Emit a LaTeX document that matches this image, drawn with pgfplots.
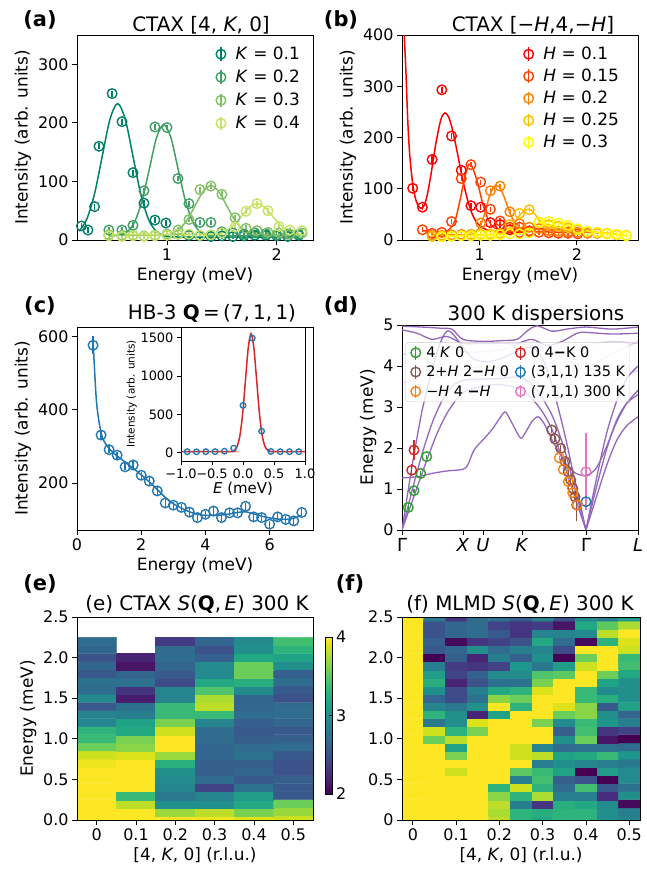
\documentclass[border=0pt]{standalone}
\usepackage{fontspec}
\setmainfont{DejaVu Sans}
\usepackage{pgfplots}
\usepgfplotslibrary{colormaps}
\pgfplotsset{compat=1.18}

\definecolor{k1}{rgb}{0.00,0.50,0.40}
\definecolor{k2}{rgb}{0.25,0.625,0.40}
\definecolor{k3}{rgb}{0.50,0.75,0.40}
\definecolor{k4}{rgb}{0.78,0.89,0.40}
\definecolor{h1}{rgb}{1,0,0}
\definecolor{h2}{rgb}{1,0.25,0}
\definecolor{h3}{rgb}{1,0.5,0}
\definecolor{h4}{rgb}{1,0.75,0}
\definecolor{h5}{rgb}{1,1,0}
\definecolor{tabblue}{HTML}{1F77B4}
\definecolor{taborange}{HTML}{FF7F0E}
\definecolor{tabgreen}{HTML}{2CA02C}
\definecolor{tabred}{HTML}{D62728}
\definecolor{tabpurple}{HTML}{9467BD}
\definecolor{tabbrown}{HTML}{8C564B}
\definecolor{tabpink}{HTML}{E377C2}

\pgfplotsset{
  base/.style={scale only axis, anchor=north west, tick align=outside, tick pos=left,
    major tick length=5bp, axis line style={line width=0.8bp},
    every tick/.style={black, line width=0.8bp},
    tick label style={font=\fontsize{16}{19}\selectfont},
    label style={font=\fontsize{17}{20}\selectfont},
    /pgf/number format/assume math mode=true,
    /pgf/number format/1000 sep={}},
  phi/.style={legend image code/.code={
    \path[draw=none, fill=none] (0cm,0cm) -- (#1,0cm);
    \draw[##1, line width=1.4bp] (0.3cm,-0.24cm) -- (0.3cm,0.24cm);
    \draw[##1, line width=1.4bp, fill=none] (0.3cm,0cm) circle (4.8bp);}},
  dat/.style={only marks, mark=o, mark size=4.8bp, line width=1.4bp,
    mark options={line width=1.4bp, fill=none, solid}, phi=0.75cm},
  eb/.style={error bars/y dir=both, error bars/y fixed=#1, error bars/error mark=none,
    error bars/error bar style={line width=1.4bp}},
  ebx/.style={error bars/y dir=both, error bars/y explicit, error bars/error mark=none,
    error bars/error bar style={line width=1.4bp}},
  fit/.style={line width=1.5bp, no marks, smooth, forget plot},
  disp/.style={tabpurple, line width=1.3bp, no marks, smooth, forget plot},
  dispf/.style={tabpurple, opacity=0.3, line width=1.3bp, no marks, smooth, forget plot},
}

\begin{document}
\begin{tikzpicture}
\useasboundingbox (0,0) rectangle (647bp,-871bp);

% panel letters and titles
\begin{scope}[every node/.style={font=\bfseries\fontsize{21}{24}\selectfont, anchor=base}]
\node at (40bp,-26bp) {(a)};
\node at (341bp,-26bp) {(b)};
\node at (40bp,-312bp) {(c)};
\node at (341bp,-312bp) {(d)};
\node at (40bp,-590bp) {(e)};
\node at (350bp,-590bp) {(f)};
\end{scope}
\begin{scope}[every node/.style={font=\fontsize{20}{23}\selectfont, anchor=base}]
\node at (201bp,-31bp) {CTAX [4, \textit{K}, 0]};
\node at (533bp,-31bp) {CTAX [−\textit{H},4,−\textit{H}]};
\node at (212bp,-319bp) {HB-3 \textbf{Q}\,=\,(7,\,1,\,1)};
\node at (536bp,-320bp) {300 K dispersions};
\node at (197bp,-610bp) {(e) CTAX \textit{S}(\textbf{Q},\,\textit{E}) 300 K};
\node at (520bp,-610bp) {(f) MLMD \textit{S}(\textbf{Q},\,\textit{E}) 300 K};
\end{scope}

% ---------------- (a)
\begin{axis}[base, at={(77bp,-35bp)}, width=236bp, height=205bp,
  xmin=0.18, xmax=2.33, ymin=0, ymax=350,
  xtick={1,2}, ytick={0,100,200,300},
  xlabel={Energy (meV)}, ylabel={Intensity (arb. units)},
  legend style={at={(1,1)}, anchor=north east, xshift=-8bp, yshift=-8bp,
    draw=none, fill=none, font=\fontsize{17}{20}\selectfont, row sep=5bp},
  legend cell align=left]
\addplot[k1, dat, eb=5] coordinates {(0.22,24)(0.28,17)(0.34,57)(0.38,160)(0.50,250)(0.59,202)(0.69,115)(0.79,63)(0.89,34)(0.99,29)(1.10,10)(1.20,8)(1.30,7)(1.40,6)(1.50,7)(1.60,6)(1.70,7)(1.80,8)(1.90,8)(2.00,7)(2.10,6)(2.20,8)};
\addlegendentry{\textit{K} = 0.1}
\addplot[k2, dat, eb=5] coordinates {(0.47,17)(0.59,17)(0.69,25)(0.79,84)(0.89,193)(1.00,192)(1.10,105)(1.20,62)(1.30,30)(1.40,30)(1.50,14)(1.60,12)(1.70,10)(1.80,12)(1.90,11)(2.00,9)(2.10,10)(2.20,10)};
\addlegendentry{\textit{K} = 0.2}
\addplot[k3, dat, eb=5] coordinates {(0.47,9)(0.59,8)(0.69,8)(0.79,7)(0.89,8)(1.00,10)(1.10,17)(1.20,35)(1.30,86)(1.40,92)(1.50,78)(1.62,38)(1.72,20)(1.82,16)(1.92,13)(2.02,12)(2.12,10)(2.23,12)};
\addlegendentry{\textit{K} = 0.3}
\addplot[k4, dat, eb=5] coordinates {(0.47,7)(0.59,6)(0.69,7)(0.79,6)(0.89,7)(1.00,8)(1.10,10)(1.20,10)(1.30,8)(1.40,9)(1.50,12)(1.62,22)(1.72,49)(1.82,62)(1.92,50)(2.02,23)(2.12,17)(2.23,16)};
\addlegendentry{\textit{K} = 0.4}
\addplot[k1, fit] coordinates {(0.20,15)(0.27,36)(0.34,79)(0.41,143)(0.48,206)(0.55,233)(0.62,206)(0.69,143)(0.76,79)(0.83,36)(0.90,15)(0.97,7.5)(1.04,5.6)(1.2,5)(2.2,5)};
\addplot[k2, fit] coordinates {(0.47,7)(0.58,9)(0.645,15)(0.71,33)(0.775,69)(0.84,122)(0.905,175)(0.97,197)(1.035,175)(1.10,122)(1.165,69)(1.23,33)(1.295,15)(1.36,9)(1.5,7)(2.2,7)};
\addplot[k3, fit] coordinates {(0.47,8)(0.98,9)(1.05,12)(1.12,20)(1.19,36)(1.26,60)(1.33,83)(1.40,93)(1.47,83)(1.54,60)(1.61,36)(1.68,20)(1.75,12)(1.82,9)(2.23,8)};
\addplot[k4, fit] coordinates {(0.47,9)(1.40,9.6)(1.47,11.3)(1.54,16)(1.61,26)(1.68,41)(1.75,56)(1.82,62)(1.89,56)(1.96,41)(2.03,26)(2.10,16)(2.17,11.3)(2.24,9.6)};
\end{axis}

% ---------------- (b)
\begin{axis}[base, at={(402bp,-35bp)}, width=236bp, height=205bp,
  xmin=0.2, xmax=2.63, ymin=0, ymax=400,
  xtick={1,2}, ytick={0,100,200,300,400},
  xlabel={Energy (meV)}, ylabel={Intensity (arb. units)},
  legend style={at={(1,1)}, anchor=north east, xshift=-14bp, yshift=-8bp,
    draw=none, fill=none, font=\fontsize{17}{20}\selectfont, row sep=4bp},
  legend cell align=left]
\addplot[h1, dat, eb=6] coordinates {(0.31,101)(0.41,64)(0.51,157)(0.61,293)(0.71,203)(0.81,136)(0.91,67)(1.01,64)(1.11,34)(1.21,30)(1.31,20)(1.41,14)(1.51,15)};
\addlegendentry{\textit{H} = 0.1}
\addplot[h2, dat, eb=5] coordinates {(0.41,20)(0.51,13)(0.61,15)(0.71,36)(0.81,120)(0.91,147)(1.01,113)(1.11,60)(1.21,37)(1.31,25)(1.41,25)(1.51,18)(1.61,15)(1.71,14)(1.81,13)(1.91,13)(2.01,12)};
\addlegendentry{\textit{H} = 0.15}
\addplot[h3, dat, eb=5] coordinates {(0.51,9)(0.61,9)(0.71,10)(0.81,11)(0.91,11)(1.01,33)(1.11,96)(1.21,105)(1.31,55)(1.41,32)(1.51,25)(1.61,22)(1.71,18)(1.81,17)(1.91,16)(2.01,15)(2.11,13)(2.21,13)(2.31,12)(2.41,10)};
\addlegendentry{\textit{H} = 0.2}
\addplot[h4, dat, eb=5] coordinates {(0.51,7)(0.61,8)(0.71,8)(0.81,9)(0.91,10)(1.01,11)(1.11,12)(1.21,13)(1.31,30)(1.41,52)(1.51,59)(1.61,35)(1.71,30)(1.81,27)(1.91,24)(2.01,20)(2.11,17)(2.21,15)(2.31,13)(2.41,11)(2.51,9)};
\addlegendentry{\textit{H} = 0.25}
\addplot[h5, dat, eb=5] coordinates {(0.61,6)(0.71,7)(0.81,8)(0.91,8)(1.01,9)(1.11,9)(1.21,10)(1.31,12)(1.41,12)(1.51,14)(1.61,34)(1.71,36)(1.81,33)(1.91,29)(2.01,22)(2.11,17)(2.21,15)(2.31,12)(2.41,11)(2.51,8)};
\addlegendentry{\textit{H} = 0.3}
\addplot[h1, fit] coordinates {(0.22,410)(0.24,330)(0.26,230)(0.28,165)(0.31,110)(0.34,80)(0.37,66)(0.40,62)(0.43,68)(0.46,88)(0.50,130)(0.55,190)(0.60,235)(0.64,248)(0.68,240)(0.72,215)(0.77,170)(0.82,122)(0.87,82)(0.92,52)(0.97,34)(1.03,24)(1.10,18)(1.2,16)(1.5,15)};
\addplot[h2, fit] coordinates {(0.41,18)(0.6,16)(0.65,17)(0.70,23)(0.75,40)(0.80,80)(0.85,125)(0.89,148)(0.93,140)(0.98,110)(1.03,72)(1.08,43)(1.13,27)(1.20,20)(1.30,18)(2.0,14)};
\addplot[h3, fit] coordinates {(0.5,10)(0.9,11)(0.95,14)(1.00,25)(1.05,50)(1.10,85)(1.15,105)(1.20,104)(1.25,85)(1.30,58)(1.35,38)(1.40,28)(1.50,22)(2.4,12)};
\addplot[h4, fit] coordinates {(0.5,8)(1.2,12)(1.30,22)(1.35,32)(1.40,45)(1.45,56)(1.50,60)(1.55,55)(1.60,42)(1.65,33)(1.75,28)(2.0,20)(2.5,9)};
\addplot[h5, fit] coordinates {(0.6,7)(1.4,12)(1.50,17)(1.55,24)(1.60,31)(1.65,35)(1.70,37)(1.80,34)(1.90,29)(2.00,23)(2.20,15)(2.5,9)};
\end{axis}

% ---------------- (c)
\begin{axis}[base, at={(77bp,-327bp)}, width=236bp, height=203bp,
  xmin=0, xmax=7.35, ymin=71, ymax=627,
  xtick={0,2,4,6}, ytick={200,400,600},
  xlabel={Energy (meV)}, ylabel={Intensity (arb. units)}]
\addplot[tabblue, fit] coordinates {(0.5,590)(0.6,430)(0.7,360)(0.8,322)(1.0,294)(1.25,274)(1.5,257)(1.75,240)(2.0,222)(2.25,203)(2.5,182)(2.75,160)(3.0,143)(3.25,131)(3.5,121)(3.75,114)(4.0,111)(4.25,111)(4.5,112)(4.75,115)(5.0,119)(5.25,121)(5.5,115)(5.75,109)(6.0,104)(6.25,101)(6.5,100)(6.75,103)(7.0,112)};
\addplot[tabblue, dat, ebx] coordinates {(0.5,577)+-(0,24)(0.75,331)+-(0,10)(1.0,291)+-(0,10)(1.25,276)+-(0,10)(1.5,244)+-(0,10)(1.75,249)+-(0,10)(2.0,221)+-(0,10)(2.25,205)+-(0,10)(2.5,178)+-(0,10)(2.75,145)+-(0,10)(3.0,139)+-(0,10)(3.25,133)+-(0,10)(3.5,120)+-(0,10)(3.75,105)+-(0,10)(4.0,114)+-(0,10)(4.25,123)+-(0,10)(4.5,105)+-(0,10)(4.75,118)+-(0,10)(5.0,118)+-(0,10)(5.25,136)+-(0,10)(5.5,107)+-(0,10)(5.75,105)+-(0,10)(6.0,87)+-(0,10)(6.25,107)+-(0,10)(6.5,100)+-(0,10)(6.75,96)+-(0,10)(7.0,119)+-(0,10)};
\end{axis}

% inset of (c)
\begin{axis}[base, at={(181bp,-327bp)}, width=124bp, height=134bp,
  axis background/.style={fill=white},
  xmin=-1, xmax=1, ymin=-110, ymax=1640,
  xtick={-1,-0.5,0,0.5,1}, xticklabels={−1.0,−0.5,0.0,0.5,1.0},
  ytick={0,500,1000,1500}, major tick length=4bp,
  tick label style={font=\fontsize{13}{15}\selectfont},
  xlabel={\textit{E} (meV)}, ylabel={Intensity (arb. units)},
  xlabel style={font=\fontsize{15}{17}\selectfont, yshift=3bp},
  ylabel style={font=\fontsize{10.5}{12}\selectfont, yshift=-3bp}]
\addplot[tabred, fit] coordinates {(-1,12)(-0.23,12.5)(-0.185,15)(-0.14,29)(-0.095,80)(-0.05,220)(-0.005,512)(0.04,946)(0.085,1371)(0.13,1552)(0.175,1371)(0.22,946)(0.265,512)(0.31,220)(0.355,80)(0.40,29)(0.445,15)(0.49,12.5)(1,12)};
\addplot[tabblue, only marks, mark=o, mark size=2.8bp, mark options={line width=1.3bp}] coordinates {(-0.9,12)(-0.75,10)(-0.6,12)(-0.45,12)(-0.3,18)(-0.15,58)(0,616)(0.15,1495)(0.3,280)(0.45,15)(0.6,12)(0.75,12)(0.9,12)};
\end{axis}

% ---------------- (d)
\begin{axis}[base, at={(402bp,-325bp)}, width=236bp, height=205bp,
  xmin=0, xmax=236, ymin=0, ymax=5,
  xtick={0,61,81,120,184,236},
  xticklabels={Γ,\textit{X},\textit{U},\textit{K},Γ,\textit{L}},
  xticklabel style={font=\fontsize{18}{20}\selectfont},
  ytick={0,1,2,3,4,5}, ylabel={Energy (meV)},
  legend columns=2,
  legend style={at={(axis description cs:0.013,0.915)}, anchor=north west,
    font=\fontsize{14.5}{17}\selectfont, draw=black!20, fill=white,
    fill opacity=0.8, text opacity=1, draw opacity=1, rounded corners=3bp,
    row sep=3bp, inner sep=2bp,
    /tikz/every even column/.append style={column sep=1bp}},
  legend cell align=left]
% dispersions
\addplot[dispf] coordinates {(0,4.3)(20,4.2)(40,3.9)(61,3.75)(81,3.7)(100,3.65)(118,3.6)(135,3.75)(150,4.1)(165,4.3)(184,4.5)(210,4.6)(236,4.55)};
\addplot[dispf] coordinates {(0,3.6)(20,3.65)(40,3.75)(61,3.9)(81,4.0)(100,3.95)(120,3.8)(135,3.6)(150,3.4)(165,3.3)(184,3.35)(210,3.6)(236,3.9)};
\addplot[dispf] coordinates {(40,4.6)(61,4.35)(81,4.35)(100,4.4)(120,4.55)(140,4.45)(160,4.2)(184,4.0)(210,4.3)(236,4.6)};
\addplot[disp] coordinates {(0,1.27)(15,1.3)(30,1.38)(45,1.44)(61,1.48)(66,1.6)(72,1.95)(81,2.2)(90,2.45)(97,2.7)(103,2.88)(108,2.7)(114,2.42)(119,2.24)(124,2.4)(130,2.65)(136,2.76)(142,2.6)(150,2.2)(158,1.85)(166,1.55)(174,1.38)(184,1.33)(194,1.5)(204,2.0)(214,2.6)(225,3.1)(236,3.4)};
\addplot[disp] coordinates {(0,0)(8,0.55)(16,1.1)(25,1.72)(35,2.35)(45,2.85)(55,3.2)(61,3.35)(70,3.45)(81,3.5)(95,3.55)(110,3.5)(120,3.4)(130,3.2)(140,2.9)(150,2.45)(160,1.75)(170,1.02)(177,0.5)(184,0)};
\addplot[disp] coordinates {(184,0)(195,0.85)(205,1.6)(215,2.2)(225,2.55)(236,2.76)};
\addplot[disp] coordinates {(0,0)(10,0.95)(20,1.85)(30,2.6)(40,3.15)(50,3.5)(61,3.65)(81,3.68)(100,3.7)(120,3.72)(135,3.4)(150,2.8)(162,2.0)(173,1.0)(184,0)};
\addplot[disp] coordinates {(184,0)(195,1.1)(205,2.0)(215,2.7)(225,3.1)(236,3.3)};
\addplot[disp] coordinates {(0,0)(10,1.55)(20,2.9)(30,3.9)(38,4.55)(45,4.85)(52,4.75)(61,4.45)(70,4.2)(81,4.1)(95,4.15)(110,4.3)(120,4.4)(130,4.45)(140,4.2)(148,3.7)(156,3.0)(164,2.2)(172,1.3)(178,0.65)(184,0)};
\addplot[disp] coordinates {(184,0)(194,1.2)(204,2.3)(214,3.1)(225,3.7)(236,4.0)};
\addplot[disp] coordinates {(0,4.97)(20,4.95)(40,4.92)(50,4.9)(61,4.65)(81,4.6)(100,4.62)(115,4.65)(125,4.85)(135,4.98)(150,4.85)(165,4.9)(184,4.95)(210,4.9)(236,4.95)};
\addplot[disp] coordinates {(0,4.88)(15,4.8)(30,4.65)(45,4.72)(61,4.55)(81,4.55)(100,4.55)(115,4.55)(130,4.65)(145,4.5)(160,4.6)(175,4.8)(184,4.82)(210,4.78)(236,4.8)};
% data, ordered for a two-column legend
\addplot[tabgreen, dat, phi=0.6cm, ebx] coordinates {(6.3,0.55)+-(0,0.05)(12,0.96)+-(0,0.05)(18.7,1.38)+-(0,0.05)(24.7,1.79)+-(0,0.05)};
\addlegendentry{4 \textit{K} 0}
\addplot[tabred, dat, phi=0.6cm, ebx] coordinates {(9.7,1.46)+-(0,0.15)(12,1.95)+-(0,0.25)};
\addlegendentry{0 4\textbf{−}K 0}
\addplot[tabbrown, dat, phi=0.6cm, ebx] coordinates {(149.7,2.44)+-(0,0.08)(153,2.22)+-(0,0.08)(158.7,1.99)+-(0,0.08)(163,1.67)+-(0,0.08)(166.3,1.42)+-(0,0.08)(168.7,1.22)+-(0,0.08)(170.7,1.02)+-(0,0.08)(173,0.81)+-(0,0.1)(174.7,0.61)+-(0,0.4)};
\addlegendentry{2+\textit{H} 2\textbf{−}\textit{H} 0}
\addplot[tabblue, dat, phi=0.6cm, ebx] coordinates {(184,0.69)+-(0,0.05)};
\addlegendentry{(3,1,1) 135 K}
\addplot[taborange, dat, phi=0.6cm, ebx] coordinates {(157.3,1.76)+-(0,0.05)(161.3,1.48)+-(0,0.05)(166.3,1.18)+-(0,0.05)(170.7,0.91)+-(0,0.05)(175.3,0.61)+-(0,0.05)};
\addlegendentry{−\textit{H} 4 \textbf{−}\textit{H}}
\addplot[tabpink, dat, phi=0.6cm, ebx] coordinates {(184,1.42)+-(0,0.94)};
\addlegendentry{(7,1,1) 300 K}
\end{axis}

% ---------------- (e)
\begin{axis}[base, at={(77bp,-617bp)}, width=236bp, height=203bp,
  axis on top, xmin=-0.05, xmax=0.55, ymin=0, ymax=2.5,
  xtick={0,0.1,0.2,0.3,0.4,0.5}, xticklabels={0,0.1,0.2,0.3,0.4,0.5},
  ytick={0,0.5,1,1.5,2,2.5}, yticklabels={0.0,0.5,1.0,1.5,2.0,2.5},
  xlabel={[4, \textit{K}, 0] (r.l.u.)}, ylabel={Energy (meV)},
  colormap name=viridis, point meta min=2, point meta max=4,
  unbounded coords=jump,
  colorbar,
  colorbar style={at={(parent axis.north east)}, anchor=north west,
    xshift=4bp, yshift=-20bp, width=7bp, height=157bp, scale only axis,
    ytick={2,3,4}, ytick pos=right, yticklabel pos=right, major tick length=4bp,
    axis line style={line width=0.8bp},
    yticklabel style={font=\fontsize{16}{19}\selectfont},
    /pgf/number format/assume math mode=true}]
\addplot[matrix plot*, mesh/cols=6, point meta=explicit] table[meta=c] {
x y c
0 0 4.0
0.1 0 4.0
0.2 0 4.0
0.3 0 3.95
0.4 0 3.9
0.5 0 3.85
0 0.1 4.0
0.1 0.1 4.0
0.2 0.1 3.7
0.3 0.1 3.8
0.4 0.1 3.6
0.5 0.1 3.7
0 0.2 4.0
0.1 0.2 3.8
0.2 0.2 3.0
0.3 0.2 3.0
0.4 0.2 3.2
0.5 0.2 3.55
0 0.3 4.0
0.1 0.3 3.35
0.2 0.3 2.8
0.3 0.3 2.9
0.4 0.3 3.1
0.5 0.3 2.55
0 0.4 4.0
0.1 0.4 4.0
0.2 0.4 2.9
0.3 0.4 2.4
0.4 0.4 2.75
0.5 0.4 2.55
0 0.5 4.0
0.1 0.5 4.0
0.2 0.5 2.95
0.3 0.5 2.7
0.4 0.5 2.55
0.5 0.5 2.6
0 0.6 4.0
0.1 0.6 4.0
0.2 0.6 3.0
0.3 0.6 2.6
0.4 0.6 2.65
0.5 0.6 2.5
0 0.7 3.95
0.1 0.7 4.0
0.2 0.7 3.25
0.3 0.7 2.6
0.4 0.7 2.6
0.5 0.7 2.5
0 0.8 3.85
0.1 0.8 3.9
0.2 0.8 3.7
0.3 0.8 2.65
0.4 0.8 2.75
0.5 0.8 2.55
0 0.9 3.55
0.1 0.9 3.65
0.2 0.9 4.0
0.3 0.9 2.65
0.4 0.9 2.7
0.5 0.9 2.7
0 1.0 3.35
0.1 1.0 3.6
0.2 1.0 4.0
0.3 1.0 2.7
0.4 1.0 2.6
0.5 1.0 2.6
0 1.1 3.3
0.1 1.1 3.2
0.2 1.1 3.85
0.3 1.1 2.7
0.4 1.1 2.55
0.5 1.1 2.55
0 1.2 2.9
0.1 1.2 3.15
0.2 1.2 3.6
0.3 1.2 2.9
0.4 1.2 2.6
0.5 1.2 2.65
0 1.3 2.9
0.1 1.3 2.85
0.2 1.3 3.35
0.3 1.3 3.35
0.4 1.3 2.7
0.5 1.3 2.7
0 1.4 2.55
0.1 1.4 2.75
0.2 1.4 3.35
0.3 1.4 3.8
0.4 1.4 2.65
0.5 1.4 2.7
0 1.5 2.95
0.1 1.5 2.15
0.2 1.5 2.9
0.3 1.5 3.75
0.4 1.5 2.65
0.5 1.5 2.5
0 1.6 2.7
0.1 1.6 2.3
0.2 1.6 2.9
0.3 1.6 3.45
0.4 1.6 2.95
0.5 1.6 2.55
0 1.7 2.75
0.1 1.7 2.75
0.2 1.7 2.45
0.3 1.7 3.2
0.4 1.7 3.25
0.5 1.7 2.7
0 1.8 2.55
0.1 1.8 2.65
0.2 1.8 2.55
0.3 1.8 2.95
0.4 1.8 3.55
0.5 1.8 2.6
0 1.9 2.65
0.1 1.9 2.1
0.2 1.9 2.65
0.3 1.9 2.95
0.4 1.9 3.55
0.5 1.9 3.0
0 2.0 2.5
0.1 2.0 2.2
0.2 2.0 2.7
0.3 2.0 2.6
0.4 2.0 3.2
0.5 2.0 3.15
0 2.1 2.65
0.1 2.1 nan
0.2 2.1 2.7
0.3 2.1 2.5
0.4 2.1 3.0
0.5 2.1 3.3
0 2.2 2.7
0.1 2.2 nan
0.2 2.2 2.35
0.3 2.2 2.65
0.4 2.2 2.95
0.5 2.2 3.4
};
\end{axis}

% ---------------- (f)
\begin{axis}[base, at={(402bp,-617bp)}, width=238bp, height=203bp,
  axis on top, xmin=-0.025, xmax=0.525, ymin=0, ymax=2.5,
  xtick={0,0.1,0.2,0.3,0.4,0.5}, xticklabels={0,0.1,0.2,0.3,0.4,0.5},
  ytick={0,0.5,1,1.5,2,2.5}, yticklabels={0,0.5,1.0,1.5,2.0,2.5},
  xlabel={[4, \textit{K}, 0] (r.l.u.)},
  colormap name=viridis, point meta min=2, point meta max=4]
\addplot[matrix plot*, mesh/cols=11, point meta=explicit] table[x expr=\thisrow{i}*0.05, y expr=\thisrow{k}*0.1, meta=c] {
i k c
0 0 4
1 0 4
2 0 4
3 0 4
4 0 3.8
5 0 3.3
6 0 3.2
7 0 3.3
8 0 3.3
9 0 3.0
10 0 2.9
0 1 4
1 1 4
2 1 4
3 1 4
4 1 3.75
5 1 3.3
6 1 3.25
7 1 3.3
8 1 3.3
9 1 3.0
10 1 2.85
0 2 4
1 2 4
2 2 4
3 2 4
4 2 3.8
5 2 2.85
6 2 2.3
7 2 3.25
8 2 3.2
9 2 2.95
10 2 2.05
0 3 4
1 3 4
2 3 4
3 3 4
4 3 3.65
5 3 3.3
6 3 3.75
7 3 2.85
8 3 2.85
9 3 2.25
10 3 3.0
0 4 4
1 4 4
2 4 4
3 4 4
4 4 3.3
5 4 3.85
6 4 3.3
7 4 2.7
8 4 3.4
9 4 2.55
10 4 2.75
0 5 4
1 5 4
2 5 4
3 5 4
4 5 4
5 5 2.85
6 5 3.4
7 5 2.6
8 5 2.5
9 5 2.0
10 5 2.95
0 6 4
1 6 4
2 6 3.85
3 6 4
4 6 4
5 6 3.5
6 6 3.35
7 6 3.15
8 6 2.0
9 6 3.1
10 6 2.95
0 7 4
1 7 4
2 7 4
3 7 4
4 7 4
5 7 4
6 7 2.85
7 7 3.0
8 7 2.9
9 7 2.85
10 7 2.8
0 8 4
1 8 4
2 8 3.6
3 8 4
4 8 4
5 8 3.85
6 8 3.8
7 8 3.15
8 8 3.2
9 8 3.35
10 8 3.05
0 9 4
1 9 4
2 9 3.15
3 9 4
4 9 4
5 9 3.85
6 9 2.9
7 9 2.7
8 9 2.75
9 9 2.75
10 9 2.7
0 10 4
1 10 3.55
2 10 3.8
3 10 4
4 10 4
5 10 4
6 10 4
7 10 3.0
8 10 3.55
9 10 2.1
10 10 2.0
0 11 4
1 11 3.85
2 11 3.3
3 11 3.6
4 11 4
5 11 4
6 11 4
7 11 2.6
8 11 3.4
9 11 2.3
10 11 2.4
0 12 4
1 12 2.8
2 12 3.0
3 12 3.9
4 12 4
5 12 4
6 12 3.6
7 12 2.95
8 12 3.35
9 12 3.05
10 12 2.85
0 13 4
1 13 3.3
2 13 3.0
3 13 2.2
4 13 3.15
5 13 4
6 13 4
7 13 3.55
8 13 3.65
9 13 3.0
10 13 2.65
0 14 4
1 14 2.9
2 14 2.8
3 14 3.0
4 14 4
5 14 3.3
6 14 4
7 14 3.9
8 14 3.65
9 14 2.55
10 14 3.15
0 15 4
1 15 2.65
2 15 2.45
3 15 2.75
4 15 3.65
5 15 3.55
6 15 4
7 15 4
8 15 3.35
9 15 3.25
10 15 3.0
0 16 4
1 16 3.0
2 16 2.45
3 16 2.85
4 16 3.2
5 16 3.3
6 16 3.9
7 16 4
8 16 3.35
9 16 2.95
10 16 3.0
0 17 4
1 17 3.25
2 17 2.2
3 17 2.5
4 17 2.75
5 17 2.75
6 17 3.6
7 17 4
8 17 4
9 17 3.15
10 17 3.0
0 18 4
1 18 3.1
2 18 2.4
3 18 2.6
4 18 2.95
5 18 2.95
6 18 3.45
7 18 3.5
8 18 4
9 18 3.55
10 18 3.2
0 19 4
1 19 2.85
2 19 2.35
3 19 2.3
4 19 2.4
5 19 3.05
6 19 2.8
7 19 3.1
8 19 3.85
9 19 4
10 19 3.4
0 20 4
1 20 2.0
2 20 2.6
3 20 2.2
4 20 2.85
5 20 2.6
6 20 3.0
7 20 2.0
8 20 3.55
9 20 4
10 20 3.35
0 21 4
1 21 2.55
2 21 2.65
3 21 3.0
4 21 2.7
5 21 2.85
6 21 2.9
7 21 2.45
8 21 4
9 21 4
10 21 3.85
0 22 4
1 22 2.6
2 22 2.05
3 22 2.3
4 22 2.4
5 22 2.5
6 22 3.2
7 22 2.7
8 22 2.05
9 22 3.3
10 22 3.9
0 23 4
1 23 2.5
2 23 2.65
3 23 2.7
4 23 2.55
5 23 2.3
6 23 2.9
7 23 2.9
8 23 2.95
9 23 3.8
10 23 4.0
0 24 4
1 24 2.5
2 24 2.65
3 24 2.7
4 24 2.4
5 24 2.3
6 24 2.35
7 24 2.1
8 24 3.2
9 24 3.5
10 24 3.75
0 25 4
1 25 2.8
2 25 2.3
3 25 2.7
4 25 2.75
5 25 2.6
6 25 2.9
7 25 2.5
8 25 2.95
9 25 2.85
10 25 3.1
};
\end{axis}
\end{tikzpicture}
\end{document}
